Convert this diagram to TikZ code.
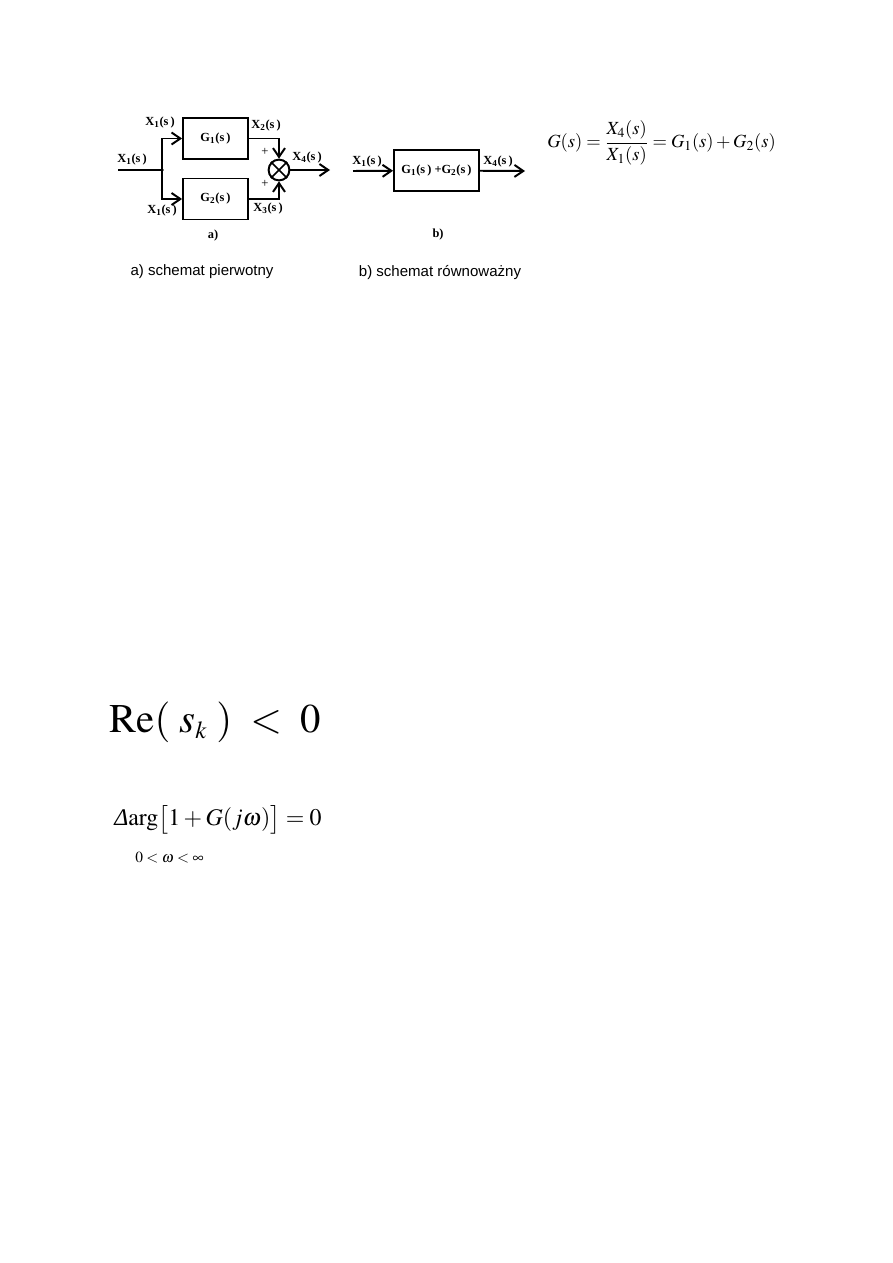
\documentclass[tikz,border=0pt]{standalone}
\usepackage{mathptmx}
\usepackage[no-math]{fontspec}
\setmainfont{Liberation Serif}
\newfontfamily\capfont{Liberation Sans}
\usetikzlibrary{arrows.meta,positioning}

\tikzset{
  blok/.style={draw,line width=1.3pt,minimum height=10.25mm,inner sep=1pt,
    font=\bfseries\fontsize{8.8}{10}\selectfont},
  sig/.style={inner sep=0pt,font=\bfseries\fontsize{8.8}{10}\selectfont},
  wire/.style={line width=1.4pt},
  arr/.style={wire,-{Straight Barb[length=2.2mm,width=3mm]}},
  caption/.style={inner sep=0pt,font=\capfont\fontsize{10.7}{12}\selectfont}
}
\newcommand{\sig}[2]{#1\textsubscript{#2}(s\,)}

\begin{document}
\begin{tikzpicture}[x=0.25mm,y=-0.25mm]
        \useasboundingbox[fill=white] (0,0) rectangle (893,1263);
        % a) schemat pierwotny
        \begin{scope}
          \coordinate (in) at (118,170);
          \coordinate (j) at (162,170);
          \node[blok,minimum width=16.25mm] (g1) at (215.5,138.5) {\sig{G}{1}};
          \node[blok,minimum width=16.25mm] (g2) at (215.5,199) {\sig{G}{2}};
          \node[draw,circle,line width=1.4pt,minimum size=5.2mm,inner sep=0pt] (sum) at (279,170) {};
          \coordinate (out) at (330,170);
          \fill (j) circle (1.3pt);
        \end{scope}
        \begin{scope}[every edge/.style={draw,wire}]
          \path (in) edge (j);
          \path (sum.45) edge[line width=1.2pt] (sum.225);
          \path (sum.135) edge[line width=1.2pt] (sum.315);
          \path (sum) edge[arr] (out);
        \end{scope}
        \draw[arr] (j) |- (g1);
        \draw[arr] (j) |- (g2);
        \draw[arr] (g1) -| (sum);
        \draw[arr] (g2) -| (sum);
        \node[sig] (x1a) at (160,123) {\sig{X}{1}};
        \node[sig] (x1b) at (132,160) {\sig{X}{1}};
        \node[sig] (x1c) at (162,211) {\sig{X}{1}};
        \node[sig] (x2) at (266,126) {\sig{X}{2}};
        \node[sig] (x3) at (268,209) {\sig{X}{3}};
        \node[sig] (x4) at (307,158) {\sig{X}{4}};
        \node[inner sep=0pt,font=\fontsize{9}{10}\selectfont] (p1) at (265,152) {+};
        \node[inner sep=0pt,font=\fontsize{9}{10}\selectfont] (p2) at (265,184) {+};
        \node[sig] (la) at (213,236) {a)};
        \node[caption] (ca) at (202,272) {a) schemat pierwotny};
        % b) schemat rownowazny
        \begin{scope}
          \coordinate (inb) at (353,171);
          \node[blok,minimum width=21.25mm] (gb) at (436.5,170.5) {\sig{G}{1} +\sig{G}{2}};
          \coordinate (outb) at (525,171);
        \end{scope}
        \begin{scope}[every edge/.style={draw,arr}]
          \path (inb) edge (gb);
          \path (gb) edge (outb);
        \end{scope}
        \node[sig] (x1d) at (367,162) {\sig{X}{1}};
        \node[sig] (x4b) at (498,162) {\sig{X}{4}};
        \node[sig] (lb) at (438,235) {b)};
        \node[caption] (cb) at (440,273) {b) schemat równoważny};
        % wzory
        \node[anchor=west,inner sep=0pt,font=\fontsize{13.2}{15}\selectfont] (eq) at (547,143)
          {$\displaystyle G(s)=\frac{X_4(s)}{X_1(s)}=G_1(s)+G_2(s)$};
        \node[anchor=west,inner sep=0pt,font=\fontsize{29}{33}\selectfont] (re) at (109,722)
          {$\mathrm{Re}(\;s_{\scriptscriptstyle k}\;)\;<\;0$};
        \node[anchor=west,inner sep=0pt,font=\fontsize{17}{19}\selectfont] (arg) at (114,820)
          {\textit{Δ}$\arg\bigl[1+G(j\omega)\bigr]=0$};
        \node[anchor=west,inner sep=0pt,font=\itshape\fontsize{11}{13}\selectfont] (om) at (135,858)
          {$0<\omega<\infty$};
      \end{tikzpicture}
\end{document}
